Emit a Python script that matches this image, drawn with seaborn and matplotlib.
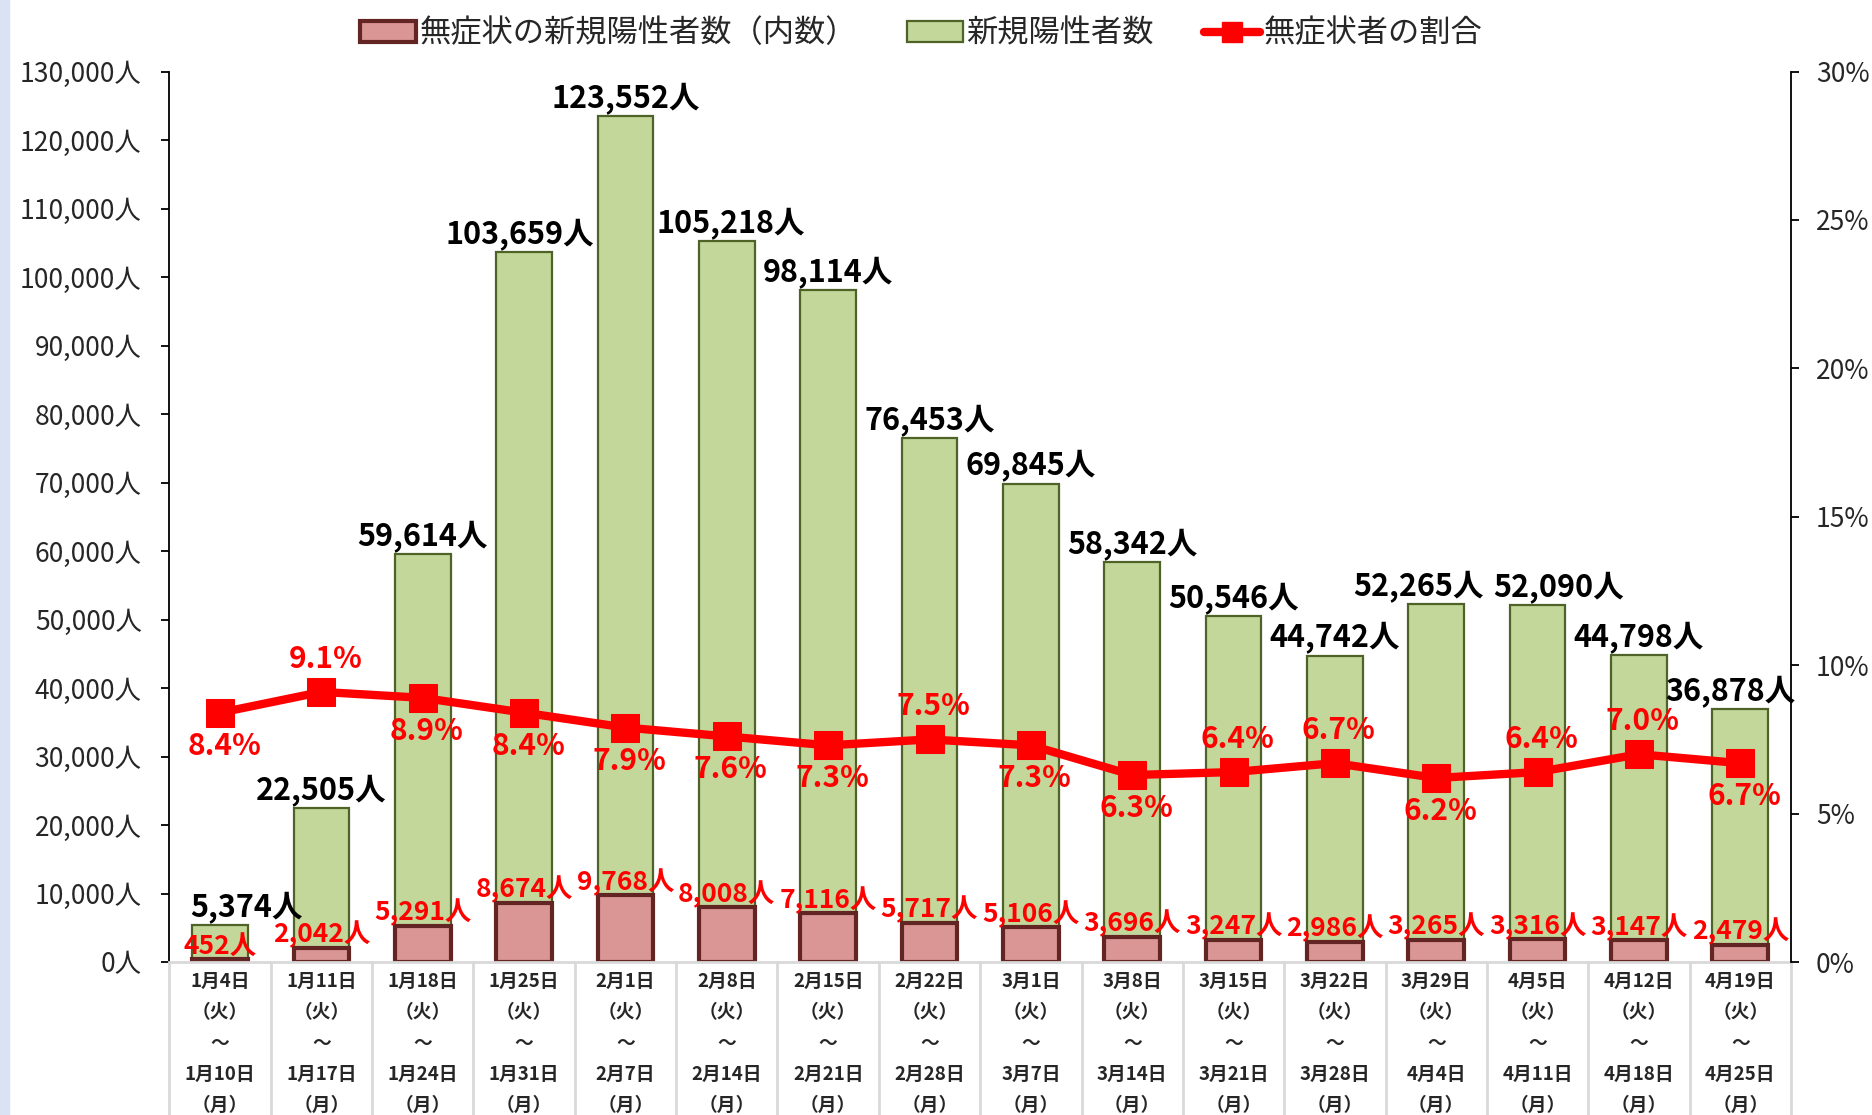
import numpy as np
import seaborn as sns
import matplotlib.pyplot as plt
from matplotlib.patches import Patch, Rectangle
from matplotlib.lines import Line2D
from matplotlib.ticker import FuncFormatter

# data
week_start = ['1月4日', '1月11日', '1月18日', '1月25日', '2月1日', '2月8日',
              '2月15日', '2月22日', '3月1日', '3月8日', '3月15日', '3月22日',
              '3月29日', '4月5日', '4月12日', '4月19日']
week_end = ['1月10日', '1月17日', '1月24日', '1月31日', '2月7日', '2月14日',
            '2月21日', '2月28日', '3月7日', '3月14日', '3月21日', '3月28日',
            '4月4日', '4月11日', '4月18日', '4月25日']
new_cases = [5374, 22505, 59614, 103659, 123552, 105218, 98114, 76453,
             69845, 58342, 50546, 44742, 52265, 52090, 44798, 36878]
asym_cases = [452, 2042, 5291, 8674, 9768, 8008, 7116, 5717,
              5106, 3696, 3247, 2986, 3265, 3316, 3147, 2479]
asym_ratio = [8.4, 9.1, 8.9, 8.4, 7.9, 7.6, 7.3, 7.5,
              7.3, 6.3, 6.4, 6.7, 6.2, 6.4, 7.0, 6.7]
ratio_label_above = [False, True, False, False, False, False, False, True,
                     False, False, True, True, False, True, True, False]

labels = [f'{s}\n（火）\n～\n{e}\n（月）' for s, e in zip(week_start, week_end)]
n = len(labels)

GREEN = '#c4d79b'
GREEN_EDGE = '#4f6228'
PINK = '#d99694'
PINK_EDGE = '#632523'
RED = '#ff0000'

sns.set_style('white')
plt.rcParams['font.family'] = ['Noto Sans CJK JP', 'DejaVu Sans']

fig = plt.figure(figsize=(18.72, 11.15), dpi=100)
fig.patches.append(Rectangle((0, 0), 0.0048, 1, transform=fig.transFigure,
                             color='#dae3f3', zorder=0))
ax = fig.add_axes([0.0905, 0.1372, 0.8662, 0.7986])

# bars
sns.barplot(x=labels, y=new_cases, ax=ax, color=GREEN, saturation=1,
            width=0.55, edgecolor=GREEN_EDGE, linewidth=1.6)
sns.barplot(x=labels, y=asym_cases, ax=ax, color=PINK, saturation=1,
            width=0.55, edgecolor=PINK_EDGE, linewidth=3)

ax.set_ylim(0, 130000)
ax.set_yticks(np.arange(0, 130001, 10000))
ax.yaxis.set_major_formatter(FuncFormatter(lambda v, p: f'{int(v):,}人'))
ax.set_xlim(-0.5, n - 0.5)
ax.set_xlabel('')
ax.set_ylabel('')
ax.set_xticks(range(n))
ax.set_xticklabels(labels, fontsize=13.5, fontweight='bold', linespacing=1.8)
ax.tick_params(axis='x', length=0, pad=7)
ax.tick_params(axis='y', direction='out', length=6, width=1.3,
               color='black', labelsize=19, pad=14)

for side in ['top', 'right']:
    ax.spines[side].set_visible(False)
ax.spines['left'].set_color('black')
ax.spines['left'].set_linewidth(1.3)
ax.spines['bottom'].set_color('#d9d9d9')
ax.spines['bottom'].set_linewidth(2)

# separators in the label area
for k in range(n + 1):
    ax.plot([k - 0.5, k - 0.5], [0, -0.18], transform=ax.get_xaxis_transform(),
            color='#d9d9d9', lw=2, clip_on=False)

# bar labels
total_dx = [26, 0, 0, -4, 0, 4, 0, 0, 0, 0, 0, 0, -18, 21, 0, -10]
for i, v in enumerate(new_cases):
    ax.annotate(f'{v:,}人', (i, v), xytext=(total_dx[i], 1),
                textcoords='offset pixels', ha='center', va='bottom',
                fontsize=22, fontweight='bold', color='black')
for i, v in enumerate(asym_cases):
    ax.annotate(f'{v:,}人', (i, v), xytext=(0, 13),
                textcoords='offset pixels', ha='center', va='center',
                fontsize=19, fontweight='bold', color=RED)

# ratio line
ax2 = ax.twinx()
sns.lineplot(x=np.arange(n), y=asym_ratio, ax=ax2, color=RED, linewidth=6,
             marker='s', markersize=20, markeredgecolor=RED)
ax2.set_ylim(0, 30)
ax2.set_yticks(np.arange(0, 31, 5))
ax2.yaxis.set_major_formatter(FuncFormatter(lambda v, p: f'{v:.0f}%'))
ax2.tick_params(axis='y', direction='out', length=6, width=1.3,
                color='black', labelsize=19, pad=12)
for side in ['top', 'left', 'bottom']:
    ax2.spines[side].set_visible(False)
ax2.spines['right'].set_color('black')
ax2.spines['right'].set_linewidth(1.3)
ax2.set_ylabel('')

for i, v in enumerate(asym_ratio):
    dy = 33 if ratio_label_above[i] else -33
    ax2.annotate(f'{v:.1f}%', (i, v), xytext=(4, dy),
                 textcoords='offset pixels', ha='center', va='center',
                 fontsize=21.5, fontweight='bold', color=RED)

# legend
handles = [
    Patch(facecolor=PINK, edgecolor=PINK_EDGE, linewidth=3),
    Patch(facecolor=GREEN, edgecolor=GREEN_EDGE, linewidth=1.6),
    Line2D([], [], color=RED, linewidth=6, marker='s', markersize=14),
]
names = ['無症状の新規陽性者数（内数）', '新規陽性者数', '無症状者の割合']
fig.legend(handles, names, loc='center', bbox_to_anchor=(0.492, 0.970),
           ncol=3, frameon=False, fontsize=22.5, handlelength=1.8,
           handleheight=0.7, handletextpad=0.1, columnspacing=1.6)

plt.savefig('out.png', dpi=100)
